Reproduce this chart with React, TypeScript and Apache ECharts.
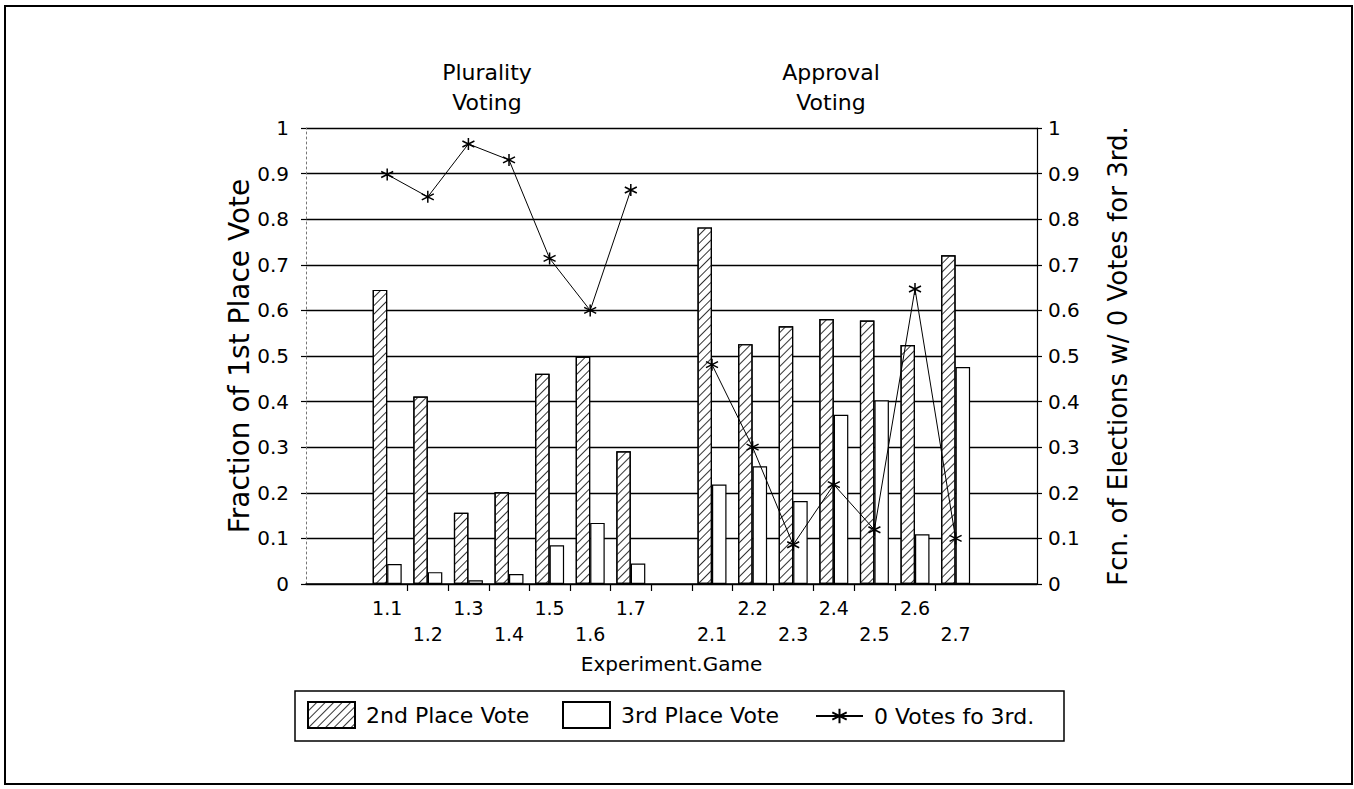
import React, { useEffect, useRef } from 'react';
import * as echarts from 'echarts';

// ---- data ----
const categories = ['', '1.1', '1.2', '1.3', '1.4', '1.5', '1.6', '1.7', ' ', '2.1', '2.2', '2.3', '2.4', '2.5', '2.6', '2.7', '  '];
const secondRowLabels = ['1.2', '1.4', '1.6', '2.1', '2.3', '2.5', '2.7'];
const boundaryTicks = ['b0', 'b1', 'b2', 'b3', 'b4', 'b5', 'b6', 'b7', 'b8', 'b9', 'b10', 'b11', 'b12', 'b13', 'b14', 'b15', 'b16', 'b17'];
const shownBoundaryTicks = [2, 3, 4, 5, 6, 7, 8, 9, 10, 11, 12, 13, 14, 15];

const pluralitySecond = [0.645, 0.411, 0.156, 0.201, 0.461, 0.499, 0.291];
const approvalSecond = [0.782, 0.526, 0.565, 0.581, 0.578, 0.524, 0.721];
const pluralityThird = [0.044, 0.026, 0.008, 0.022, 0.085, 0.134, 0.045];
const approvalThird = [0.218, 0.258, 0.182, 0.371, 0.403, 0.109, 0.476];
const pluralityZero = [0.898, 0.849, 0.965, 0.93, 0.714, 0.6, 0.864];
const approvalZero = [0.481, 0.3, 0.086, 0.218, 0.119, 0.647, 0.1];

const groupTitles = ['Plurality\nVoting', 'Approval\nVoting'];
const seriesNames = ['2nd Place Vote', '3rd Place Vote', '0 Votes fo 3rd.'];
const leftAxisName = 'Fraction of 1st Place Vote';
const rightAxisName = 'Fcn. of Elections w/ 0 Votes for 3rd.';
const xAxisName = 'Experiment.Game';

const FONT = '"DejaVu Sans", sans-serif';
const build = (a: number[], b: number[]) => [null, ...a, null, ...b, null];

const STAR = 'path://M6 0 L6 12 M0.8 3 L11.2 9 M0.8 9 L11.2 3';

export default function App() {
  const ref = useRef<HTMLDivElement>(null);
  useEffect(() => {
    if (!ref.current) return;
    const chart = echarts.init(ref.current, null, { renderer: 'svg' });
    const yCommon = { min: 0, max: 1, interval: 0.1 };
    const labelStyle = { fontSize: 20, fontFamily: FONT, color: '#000' };
    const legendText = { fontSize: 22, fontFamily: FONT, color: '#000', padding: [0, 0, 0, 6] };
    chart.setOption({
      animation: false,
      backgroundColor: '#fff',
      grid: [
        { left: 306, top: 128, width: 731, height: 456 },
        { left: 326.3, top: 128, width: 690.2, height: 456 },
      ],
      xAxis: [
        {
          gridIndex: 0,
          type: 'category',
          data: boundaryTicks,
          boundaryGap: true,
          axisLine: { show: true, lineStyle: { color: '#000', width: 1.5 } },
          axisTick: {
            show: true,
            alignWithLabel: true,
            interval: (i: number) => shownBoundaryTicks.includes(i),
            length: 7,
            lineStyle: { color: '#000', width: 1.2 },
          },
          axisLabel: { show: false },
          splitLine: { show: false },
          name: xAxisName,
          nameLocation: 'middle',
          nameGap: 70,
          nameMoveOverlap: false,
          nameTextStyle: { fontSize: 20, fontFamily: FONT, color: '#000' },
        },
        {
          gridIndex: 1,
          type: 'category',
          data: categories,
          boundaryGap: true,
          axisLine: { show: false },
          axisTick: { show: false },
          splitLine: { show: false },
          axisLabel: {
            interval: 0,
            margin: 11,
            fontSize: 19,
            lineHeight: 26,
            fontFamily: FONT,
            color: '#000',
            formatter: (v: string) => (secondRowLabels.includes(v) ? '\n' + v : v),
          },
        },
      ],
      yAxis: [
        {
          gridIndex: 0,
          type: 'value',
          position: 'left',
          ...yCommon,
          axisLine: { show: true, lineStyle: { color: '#777', width: 1, type: [2, 3] } },
          axisTick: { show: true, length: 5, lineStyle: { color: '#000', width: 1.2 } },
          axisLabel: { ...labelStyle, margin: 17 },
          splitLine: { show: true, lineStyle: { color: '#000', width: 1.4 } },
          name: leftAxisName,
          nameLocation: 'middle',
          nameRotate: 90,
          nameGap: 53,
          nameMoveOverlap: false,
          nameTextStyle: { fontSize: 28, fontFamily: FONT, color: '#000' },
        },
        {
          gridIndex: 0,
          type: 'value',
          position: 'right',
          ...yCommon,
          axisLine: { show: true, lineStyle: { color: '#000', width: 1.2 } },
          axisTick: { show: true, length: 5, lineStyle: { color: '#000', width: 1.2 } },
          axisLabel: { ...labelStyle, margin: 11 },
          splitLine: { show: false },
          name: rightAxisName,
          nameLocation: 'middle',
          nameRotate: 90,
          nameGap: 68,
          nameMoveOverlap: false,
          nameTextStyle: { fontSize: 26, fontFamily: FONT, color: '#000' },
        },
        { gridIndex: 1, type: 'value', ...yCommon, show: false },
        { gridIndex: 1, type: 'value', position: 'right', ...yCommon, show: false },
      ],
      legend: [
        { data: [seriesNames[0]], icon: 'rect', left: 307, top: 701, itemWidth: 47, itemHeight: 26, padding: 0, textStyle: legendText },
        { data: [seriesNames[1]], icon: 'rect', left: 562, top: 701, itemWidth: 47, itemHeight: 26, padding: 0, textStyle: legendText },
        { data: [seriesNames[2]], left: 815, top: 705, itemWidth: 47, itemHeight: 18, padding: 0, textStyle: legendText },
      ],
      graphic: [
        { type: 'rect', silent: true, shape: { x: 5, y: 6, width: 1347, height: 778 }, style: { fill: 'none', stroke: '#000', lineWidth: 2 } },
        { type: 'rect', silent: true, shape: { x: 295, y: 691, width: 769, height: 50 }, style: { fill: 'none', stroke: '#000', lineWidth: 1.5 } },
        { type: 'text', silent: true, x: 487, y: 57, style: { text: groupTitles[0], align: 'center', verticalAlign: 'top', fontSize: 22, lineHeight: 30, fontFamily: FONT, fill: '#000' } },
        { type: 'text', silent: true, x: 831, y: 57, style: { text: groupTitles[1], align: 'center', verticalAlign: 'top', fontSize: 22, lineHeight: 30, fontFamily: FONT, fill: '#000' } },
      ],
      series: [
        {
          name: seriesNames[0],
          type: 'bar',
          xAxisIndex: 1,
          yAxisIndex: 2,
          data: build(pluralitySecond, approvalSecond),
          barWidth: 14.5,
          barGap: '0%',
          itemStyle: {
            color: '#fff',
            borderColor: '#000',
            borderWidth: 1.2,
            decal: {
              symbol: 'rect',
              symbolSize: 1,
              color: '#333',
              backgroundColor: '#fff',
              dashArrayX: [1, 0],
              dashArrayY: [1, 5],
              rotation: -Math.PI / 4,
            },
          },
        },
        {
          name: seriesNames[1],
          type: 'bar',
          xAxisIndex: 1,
          yAxisIndex: 2,
          data: build(pluralityThird, approvalThird),
          barWidth: 14.5,
          barGap: '0%',
          itemStyle: { color: '#fff', borderColor: '#000', borderWidth: 1.2 },
        },
        {
          name: seriesNames[2],
          type: 'line',
          xAxisIndex: 1,
          yAxisIndex: 3,
          data: build(pluralityZero, approvalZero),
          connectNulls: false,
          symbol: STAR,
          symbolSize: 12,
          lineStyle: { color: '#000', width: 1 },
          itemStyle: { color: '#000', borderColor: '#000', borderWidth: 1.5 },
          z: 5,
        },
      ],
    });
    return () => chart.dispose();
  }, []);
  return (
    <div
      ref={ref}
      style={{ position: 'fixed', left: 0, top: 0, width: 1354, height: 789, background: '#fff' }}
    />
  );
}
